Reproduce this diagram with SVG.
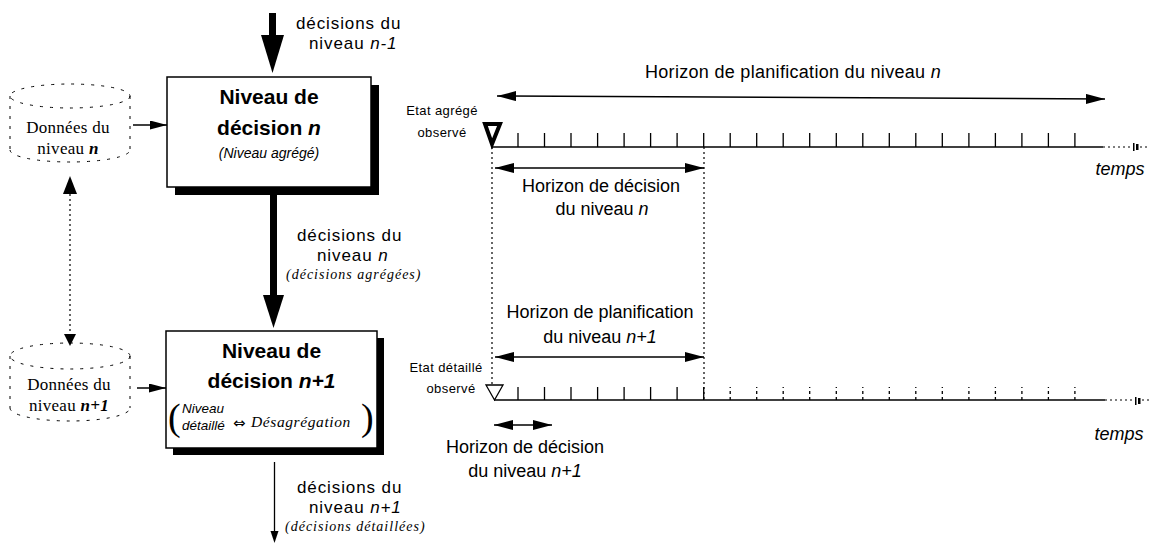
<svg xmlns="http://www.w3.org/2000/svg" width="1153" height="544" viewBox="0 0 1153 544">
<defs>
<marker id="ah" markerWidth="19" markerHeight="10" refX="19" refY="5" orient="auto-start-reverse" markerUnits="userSpaceOnUse"><path d="M0,0 L19,5 L0,10 Z" fill="#000"/></marker>
<marker id="ahs" markerWidth="17" markerHeight="9" refX="17" refY="4.5" orient="auto" markerUnits="userSpaceOnUse"><path d="M0,0 L17,4.5 L0,9 Z" fill="#000"/></marker>
</defs>
<style>
.sans{font-family:"Liberation Sans",Arial,sans-serif;fill:#000}
.serif{font-family:"Liberation Serif","Times New Roman",serif;fill:#000}
.lbl{font-size:17px;letter-spacing:0.9px}
.hz{font-size:18px}
.ttl{font-size:21px;font-weight:bold}
.etat{font-size:13px;letter-spacing:0.4px}
.sub{font-size:14px;font-style:italic;letter-spacing:1px}
.don{font-size:17px;letter-spacing:0.3px}
.tl{stroke:#000;stroke-width:1.5;fill:none}
.tick{stroke:#000;stroke-width:1.3;fill:none}
.dtick{stroke:#000;stroke-width:1.3;fill:none;stroke-dasharray:3 3}
.dot{stroke:#000;stroke-width:1.2;fill:none;stroke-dasharray:2 3}
.cyl{stroke:#000;stroke-width:1;fill:none;stroke-dasharray:3 7}
.harr{stroke:#000;stroke-width:1.5;fill:none;marker-start:url(#ah);marker-end:url(#ah)}
</style>

<!-- Data cylinder n -->
<g id="data-n">
<ellipse class="cyl" cx="70" cy="96" rx="60" ry="12"/>
<path class="cyl" d="M10,96 V150 M130,96 V150 M10,150 A60,12 0 0 0 130,150"/>
<text class="serif don" x="68" y="133" text-anchor="middle">Données du</text>
<text class="serif don" x="68" y="154" text-anchor="middle">niveau <tspan font-weight="bold" font-style="italic">n</tspan></text>
</g>

<!-- Data cylinder n+1 -->
<g id="data-n1">
<ellipse class="cyl" cx="70" cy="356" rx="60" ry="13"/>
<path class="cyl" d="M10,356 V408 M130,356 V408 M10,408 A60,13 0 0 0 130,408"/>
<text class="serif don" x="69" y="390" text-anchor="middle">Données du</text>
<text class="serif don" x="69" y="411" text-anchor="middle">niveau <tspan font-weight="bold" font-style="italic">n+1</tspan></text>
</g>

<!-- Decision box n -->
<g id="box-n">
<rect x="175" y="85" width="204" height="110" fill="#000"/>
<rect x="167" y="77" width="204" height="110" fill="#fff" stroke="#000" stroke-width="1.5"/>
<text class="sans ttl" x="269" y="104" text-anchor="middle">Niveau de</text>
<text class="sans ttl" x="269" y="135" text-anchor="middle">décision <tspan font-style="italic">n</tspan></text>
<text class="sans" x="269" y="158" font-size="14" font-style="italic" text-anchor="middle">(Niveau agrégé)</text>
</g>

<!-- Decision box n+1 -->
<g id="box-n1">
<rect x="173" y="338" width="211" height="117" fill="#000"/>
<rect x="166" y="331" width="211" height="117" fill="#fff" stroke="#000" stroke-width="1.5"/>
<text class="sans ttl" x="271.5" y="358" text-anchor="middle">Niveau de</text>
<text class="sans ttl" x="271.5" y="388" text-anchor="middle">décision <tspan font-style="italic">n+1</tspan></text>
<text class="serif" x="168" y="430" font-size="38">(</text>
<text class="sans" x="182" y="413" font-size="13.5" font-style="italic">Niveau</text>
<text class="sans" x="182" y="430" font-size="13.5" font-style="italic">détaillé</text>
<text x="233" y="428" font-size="15" style="font-family:'DejaVu Sans',sans-serif">⇔</text>
<text class="serif" x="251" y="427" font-size="15.5" font-style="italic" letter-spacing="0.6">Désagrégation</text>
<text class="serif" x="361" y="430" font-size="38">)</text>
</g>

<!-- Connectors -->
<g id="connectors">
<rect x="269" y="13" width="7" height="24" fill="#000"/>
<polygon points="261,35 284,35 272.5,73" fill="#000"/>
<rect x="270" y="195" width="7" height="102" fill="#000"/>
<polygon points="263,295 284,295 273.5,328" fill="#000"/>
<line x1="274.5" y1="462" x2="274.5" y2="533" stroke="#000" stroke-width="1.3"/>
<polygon points="270.5,531 278.5,531 274.5,543" fill="#000"/>
<line x1="133" y1="125" x2="167" y2="125" stroke="#000" stroke-width="1.5" marker-end="url(#ahs)"/>
<line x1="137" y1="388" x2="166" y2="388" stroke="#000" stroke-width="1.5" marker-end="url(#ahs)"/>
<line class="dot" x1="70" y1="194" x2="70" y2="334" stroke-width="2"/>
<polygon points="63,194 77,194 70,176" fill="#000"/>
<polygon points="64,334 76,334 70,346" fill="#000"/>
</g>

<!-- Labels of decision arrows -->
<g id="labels">
<text class="sans lbl" x="296" y="29">décisions du</text>
<text class="sans lbl" x="309" y="49">niveau <tspan font-style="italic">n-1</tspan></text>
<text class="sans lbl" x="297" y="241">décisions du</text>
<text class="sans lbl" x="317" y="261">niveau <tspan font-style="italic">n</tspan></text>
<text class="serif sub" x="286" y="279">(décisions agrégées)</text>
<text class="sans lbl" x="297" y="493">décisions du</text>
<text class="sans lbl" x="309" y="513">niveau <tspan font-style="italic">n+1</tspan></text>
<text class="serif sub" x="285" y="531">(décisions détaillées)</text>
</g>

<!-- Timeline n -->
<g id="timeline-n">
<text class="sans hz" x="793" y="78" text-anchor="middle" letter-spacing="0.3">Horizon de planification du niveau <tspan font-style="italic">n</tspan></text>
<line class="harr" x1="497" y1="96" x2="1105" y2="99"/>
<text class="sans etat" x="442" y="115" text-anchor="middle">Etat agrégé</text>
<text class="sans etat" x="442" y="137" text-anchor="middle">observé</text>
<polygon points="485,124 500,124 492,144" fill="#fff" stroke="#000" stroke-width="4" stroke-linejoin="miter"/>
<line class="tl" x1="492" y1="147" x2="1103" y2="147"/>
<line class="dot" x1="1103" y1="147" x2="1130" y2="147"/>
<rect x="1133" y="143" width="1.5" height="8" fill="#000"/>
<rect x="1136" y="144" width="2.5" height="6" fill="#000"/>
<line class="dot" x1="1140" y1="147" x2="1150" y2="147"/>
<path class="tick" d="M518,147V133 M544.5,147V133 M571,147V133 M597.6,147V133 M624.1,147V133 M650.6,147V133 M677.1,147V133 M703.7,147V133 M730.2,147V133 M756.7,147V133 M783.2,147V133 M809.7,147V133 M836.3,147V133 M862.8,147V133 M889.3,147V133 M915.8,147V133 M942.3,147V133 M968.9,147V133 M995.4,147V133 M1021.9,147V133 M1048.4,147V133 M1074.9,147V133"/>
<text class="sans" x="1120" y="175" font-size="18" font-style="italic" text-anchor="middle">temps</text>
<line class="dot" x1="492" y1="147" x2="492" y2="386"/>
<line class="dot" x1="704" y1="147" x2="704" y2="400"/>
<line class="harr" x1="495" y1="168" x2="704" y2="168"/>
<text class="sans hz" x="601" y="192" text-anchor="middle">Horizon de décision</text>
<text class="sans hz" x="602" y="215" text-anchor="middle">du niveau <tspan font-style="italic">n</tspan></text>
</g>

<!-- Timeline n+1 -->
<g id="timeline-n1">
<text class="sans hz" x="600" y="318" text-anchor="middle">Horizon de planification</text>
<text class="sans hz" x="600" y="343" text-anchor="middle">du niveau <tspan font-style="italic">n+1</tspan></text>
<line class="harr" x1="495" y1="357" x2="704" y2="357"/>
<text class="sans etat" x="446" y="372" text-anchor="middle">Etat détaillé</text>
<text class="sans etat" x="451" y="393" text-anchor="middle">observé</text>
<polygon points="486,385 503,385 494.5,400" fill="#fff" stroke="#000" stroke-width="1.3"/>
<line class="tl" x1="494" y1="400" x2="1105" y2="400"/>
<line class="dot" x1="1105" y1="400" x2="1132" y2="400"/>
<rect x="1135" y="397" width="1.5" height="8" fill="#000"/>
<rect x="1138" y="398" width="2.5" height="6" fill="#000"/>
<line class="dot" x1="1142" y1="400" x2="1150" y2="400"/>
<path class="tick" d="M518,400V387 M544.5,400V387 M571,400V387 M597.6,400V387 M624.1,400V387 M650.6,400V387 M677.1,400V387 M703.7,400V387"/>
<path class="dtick" d="M730.2,400V387 M756.7,400V387 M783.2,400V387 M809.7,400V387 M836.3,400V387 M862.8,400V387 M889.3,400V387 M915.8,400V387 M942.3,400V387 M968.9,400V387 M995.4,400V387 M1021.9,400V387 M1048.4,400V387 M1074.9,400V387"/>
<text class="sans" x="1119" y="440" font-size="18" font-style="italic" text-anchor="middle">temps</text>
<line class="harr" x1="494" y1="425" x2="552" y2="425"/>
<text class="sans hz" x="525" y="453" text-anchor="middle">Horizon de décision</text>
<text class="sans hz" x="525" y="477" text-anchor="middle">du niveau <tspan font-style="italic">n+1</tspan></text>
</g>
</svg>
